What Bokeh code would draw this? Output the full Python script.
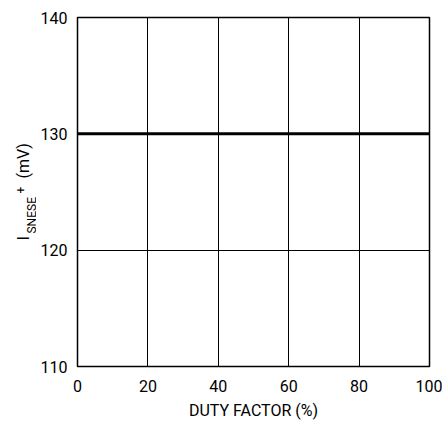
import math
from bokeh.plotting import figure
from bokeh.layouts import row
from bokeh.models import FixedTicker
from bokeh.core.properties import value
from bokeh.embed import file_html
from bokeh.resources import INLINE

# Data
duty_factor = [0, 100]
isense_mv = [130, 130]
x_ticks = [0, 20, 40, 60, 80, 100]
y_ticks = [110, 120, 130, 140]
y_label_parts = ["I", "SNESE", "+", "(mV)"]

FONT = "Roboto"
H = 426
LW = 36  # width of the strip holding the y-axis title
TOP, BOTTOM = 17, 60

p = figure(width=442 - LW, height=H, output_backend="svg", toolbar_location=None,
           x_range=(0, 100), y_range=(110, 140),
           min_border_left=77 - LW, min_border_right=13, min_border_top=TOP, min_border_bottom=BOTTOM)

p.line(duty_factor, isense_mv, line_color="black", line_width=3)

p.outline_line_color = "black"
p.outline_line_width = 1.5
p.outline_line_alpha = 1.0

for ax, ticks in ((p.xaxis, x_ticks), (p.yaxis, y_ticks)):
    ax.ticker = FixedTicker(ticks=ticks)
    ax.axis_line_color = None
    ax.major_tick_line_color = None
    ax.minor_tick_line_color = None
    ax.major_tick_in = 0
    ax.major_tick_out = 0
    ax.major_label_text_font = FONT
    ax.major_label_text_font_size = "16px"
    ax.major_label_text_color = "black"

p.xaxis.major_label_standoff = 13
p.yaxis.major_label_standoff = 10
p.xaxis.axis_label = "DUTY FACTOR (%)"
p.xaxis.axis_label_text_font = FONT
p.xaxis.axis_label_text_font_size = "16px"
p.xaxis.axis_label_text_font_style = "normal"
p.xaxis.axis_label_text_color = "black"
p.xaxis.axis_label_standoff = 6

p.xgrid.ticker = FixedTicker(ticks=x_ticks)
p.ygrid.ticker = FixedTicker(ticks=y_ticks)
p.xgrid.grid_line_color = "black"
p.ygrid.grid_line_color = "black"
p.xgrid.grid_line_width = 1
p.ygrid.grid_line_width = 1
p.background_fill_color = "white"

# Narrow strip on the left holding the y-axis title with subscript / superscript.
# Its frame is aligned with the main frame, so its y range spans the same pixels.
lab = figure(width=LW, height=H, output_backend="svg", toolbar_location=None,
             x_range=(0, LW), y_range=(BOTTOM, H - TOP), min_border=0,
             min_border_top=TOP, min_border_bottom=BOTTOM,
             x_axis_location=None, y_axis_location=None)
lab.grid.visible = False
lab.outline_line_color = None
lab.background_fill_color = "white"

# (baseline x in px, start y in px from bottom of the canvas, font size)
placement = [(22, 186, "17px"), (31, 193, "12px"), (20, 233, "12px"), (23, 248, "16px")]
for txt, (bx, sy, fs) in zip(y_label_parts, placement):
    lab.text(x=[bx], y=[sy], text=[txt], angle=math.pi / 2,
             text_align="left", text_baseline="alphabetic",
             text_font=value(FONT), text_font_size=fs, text_color="black")

layout = row(lab, p, spacing=0)
open("out.html", "w").write(file_html(layout, INLINE))
